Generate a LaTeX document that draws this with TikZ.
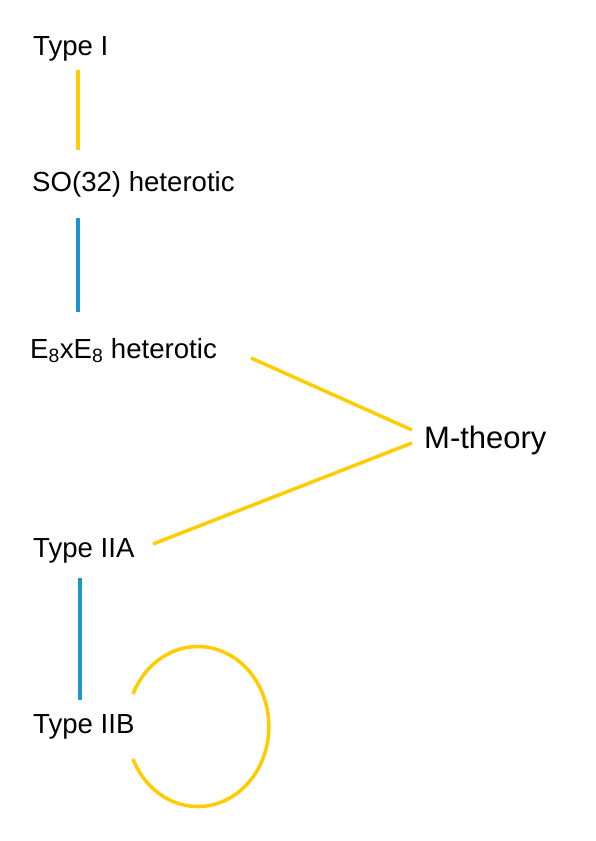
\documentclass[tikz,border=0pt]{standalone}
\usepackage{fontspec}
\setmainfont{Liberation Sans}
\definecolor{dualyellow}{RGB}{255,204,0}
\definecolor{dualblue}{RGB}{27,150,208}
\begin{document}
\begin{tikzpicture}[x=1pt, y=1pt,
    theory/.style={inner sep=0pt, anchor=base west, font=\fontsize{27.6}{32}\selectfont},
    sdual/.style={dualyellow, line width=3.5pt},
    tdual/.style={dualblue, line width=3.5pt}]
    \useasboundingbox (0,0) rectangle (595,-841);

    % 弦理论
    \node[theory] (typeI) at (33,-55) {Type I};
    \node[theory] (so32) at (32,-191) {SO(32) heterotic};
    \node[theory] (e8) at (30,-358) {E\textsubscript{8}xE\textsubscript{8} heterotic};
    \node[theory] (iia) at (33,-557) {Type IIA};
    \node[theory] (iib) at (33,-733) {Type IIB};
    \node[theory, font=\fontsize{31}{35}\selectfont] (mth) at (424,-448) {M-theory};

    % 对偶 (竖线)
    \draw[sdual] ([shift={(45,-15)}]typeI.base west) -- ([shift={(46,41)}]so32.base west);
    \draw[tdual] ([shift={(46,-27)}]so32.base west) -- ([shift={(48,46)}]e8.base west);
    \draw[tdual] ([shift={(47,-21)}]iia.base west) -- ([shift={(47,33)}]iib.base west);

    % 到 M-theory
    \draw[sdual] ([shift={(221,0)}]e8.base west) -- ([shift={(-12,18)}]mth.base west);
    \draw[sdual] ([shift={(120,13)}]iia.base west) -- ([shift={(-12,5)}]mth.base west);

    % IIB 自对偶
    \draw[sdual] ([shift={(100,39)}]iib.base west)
        arc[start angle=156, end angle=-156, x radius=71, y radius=80];
\end{tikzpicture}
\end{document}
